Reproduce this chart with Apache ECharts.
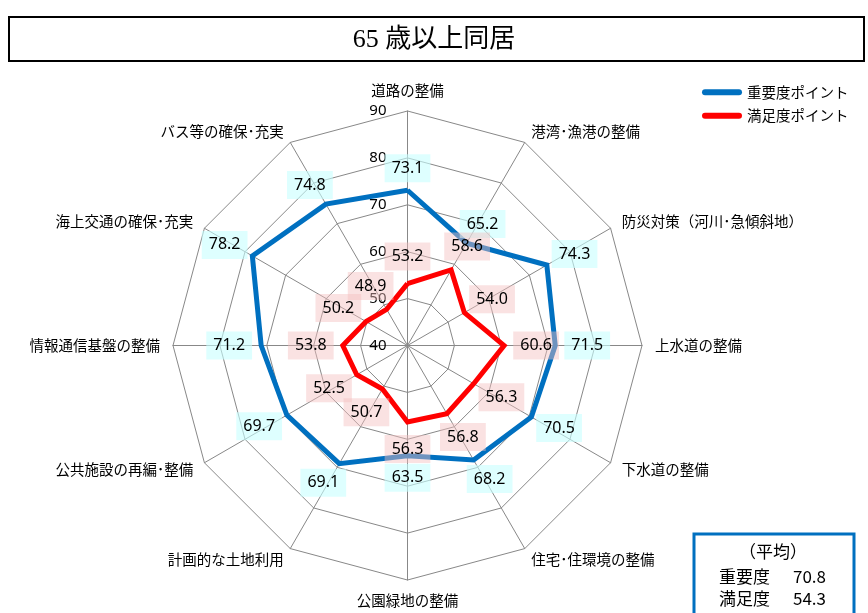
<!DOCTYPE html>
<html>
<head>
<meta charset="utf-8">
<script src="https://cdn.jsdelivr.net/npm/echarts@6/dist/echarts.min.js"></script>
<style>
  html, body { margin: 0; padding: 0; background: #ffffff; }
  #chart { width: 868px; height: 613px; }
</style>
</head>
<body>
<div id="chart"></div>
<script>
// Survey categories, clockwise from the top
const categories = [
  '道路の整備',
  '港湾･漁港の整備',
  '防災対策（河川･急傾斜地）',
  '上水道の整備',
  '下水道の整備',
  '住宅･住環境の整備',
  '公園緑地の整備',
  '計画的な土地利用',
  '公共施設の再編･整備',
  '情報通信基盤の整備',
  '海上交通の確保･充実',
  'バス等の確保･充実'
];
// Importance points (重要度)
const importance = [73.1, 65.2, 74.3, 71.5, 70.5, 68.2, 63.5, 69.1, 69.7, 71.2, 78.2, 74.8];
// Satisfaction points (満足度)
const satisfaction = [53.2, 58.6, 54.0, 60.6, 56.3, 56.8, 56.3, 50.7, 52.5, 53.8, 50.2, 48.9];
// Scale ticks of the radial axis
const axisTicks = [40, 50, 60, 70, 80, 90];
const seriesNames = ['重要度ポイント', '満足度ポイント'];
const titleText = '65 歳以上同居';

const CX = 407.5, CY = 345.5, RADIUS = 234.5;
const BLUE = '#0070C0', RED = '#FF0000';
const CJK = "'Noto Sans CJK JP', 'Noto Sans', sans-serif";

const mean = arr => arr.reduce((s, v) => s + v, 0) / arr.length;
// ECharts lays indicators out counter-clockwise; keep the first on top
// and reverse the rest so the categories run clockwise.
const clockwise = arr => [arr[0]].concat(arr.slice(1).reverse());

// push each value label outward from the centre along its spoke
function outward(rx, ry) {
  return function (p) {
    const px = p.rect.x + p.rect.width / 2;
    const py = p.rect.y + p.rect.height / 2;
    const a = Math.atan2(px - CX, CY - py);
    return { dx: rx * Math.sin(a), dy: -ry * Math.cos(a) };
  };
}

function valueLabel(bg) {
  return {
    show: true,
    position: 'inside',
    formatter: p => {
      const v = Array.isArray(p.value) ? p.value[p.dimensionIndex] : p.value;
      return Number(v).toFixed(1);
    },
    fontFamily: "'Noto Sans', sans-serif",
    fontSize: 16,
    lineHeight: 16,
    color: '#000',
    backgroundColor: bg,
    padding: [6, 7]
  };
}

const indicator = clockwise(categories).map((name, i) => {
  const ind = { name: name, min: axisTicks[0], max: axisTicks[axisTicks.length - 1] };
  if (i === 0) {
    ind.axisLabel = {
      show: true,
      fontFamily: "'Noto Sans', sans-serif",
      fontSize: 15,
      color: '#000',
      margin: 21
    };
  }
  return ind;
});

const chart = echarts.init(document.getElementById('chart'), null, { renderer: 'canvas' });

chart.setOption({
  backgroundColor: '#ffffff',
  animation: false,
  legend: {
    orient: 'vertical',
    left: 697,
    top: 80,
    itemWidth: 40,
    itemHeight: 6,
    itemGap: 9,
    icon: 'path://M3,0 H37 A3,3 0 0 1 37,6 H3 A3,3 0 0 1 3,0 Z',
    textStyle: { fontFamily: CJK, fontSize: 14.5, color: '#000' },
    data: seriesNames
  },
  radar: {
    center: [CX, CY],
    radius: RADIUS,
    startAngle: 90,
    shape: 'polygon',
    splitNumber: axisTicks.length - 1,
    indicator: indicator,
    axisName: { color: '#000', fontFamily: CJK, fontSize: 14.5 },
    nameGap: 13,
    axisLine: { lineStyle: { color: '#888888', width: 1 } },
    splitLine: { lineStyle: { color: '#888888', width: 1 } },
    splitArea: { show: false },
    axisTick: { show: false },
    axisLabel: { show: false }
  },
  series: [
    {
      type: 'radar',
      z: 2,
      symbol: 'circle',
      symbolSize: 2,
      itemStyle: { color: BLUE },
      lineStyle: { color: BLUE, width: 5, join: 'miter' },
      label: valueLabel('rgba(200,255,255,0.6)'),
      labelLayout: outward(32, 22),
      data: [{ name: seriesNames[0], value: clockwise(importance) }]
    },
    {
      type: 'radar',
      z: 2,
      symbol: 'circle',
      symbolSize: 2,
      itemStyle: { color: RED },
      lineStyle: { color: RED, width: 5, join: 'miter' },
      label: valueLabel('rgba(245,190,190,0.45)'),
      labelLayout: outward(32, 27),
      data: [{ name: seriesNames[1], value: clockwise(satisfaction) }]
    }
  ],
  graphic: [
    {
      type: 'rect',
      shape: { x: 9, y: 17, width: 855, height: 44 },
      style: { fill: '#fff', stroke: '#000', lineWidth: 2 },
      z: 0
    },
    {
      type: 'text',
      x: 434, y: 40,
      style: {
        text: titleText,
        fontFamily: "'Liberation Serif', 'Noto Sans CJK JP', serif",
        fontSize: 26,
        fill: '#000',
        align: 'center',
        verticalAlign: 'middle'
      },
      z: 1
    },
    {
      type: 'rect',
      shape: { x: 694, y: 534, width: 160, height: 100 },
      style: { fill: '#fff', stroke: BLUE, lineWidth: 3 },
      z: 0
    },
    {
      type: 'text', x: 773, y: 552,
      style: { text: '（平均）', font: "17px 'Noto Sans CJK JP'", fill: '#000', align: 'center', verticalAlign: 'middle' },
      z: 1
    },
    {
      type: 'text', x: 719, y: 577,
      style: { text: '重要度', font: "17px 'Noto Sans CJK JP'", fill: '#000', align: 'left', verticalAlign: 'middle' },
      z: 1
    },
    {
      type: 'text', x: 793, y: 577,
      style: { text: mean(importance).toFixed(1), font: "17px 'Noto Sans CJK JP'", fill: '#000', align: 'left', verticalAlign: 'middle' },
      z: 1
    },
    {
      type: 'text', x: 719, y: 599,
      style: { text: '満足度', font: "17px 'Noto Sans CJK JP'", fill: '#000', align: 'left', verticalAlign: 'middle' },
      z: 1
    },
    {
      type: 'text', x: 793, y: 599,
      style: { text: mean(satisfaction).toFixed(1), font: "17px 'Noto Sans CJK JP'", fill: '#000', align: 'left', verticalAlign: 'middle' },
      z: 1
    }
  ]
});
</script>
</body>
</html>
